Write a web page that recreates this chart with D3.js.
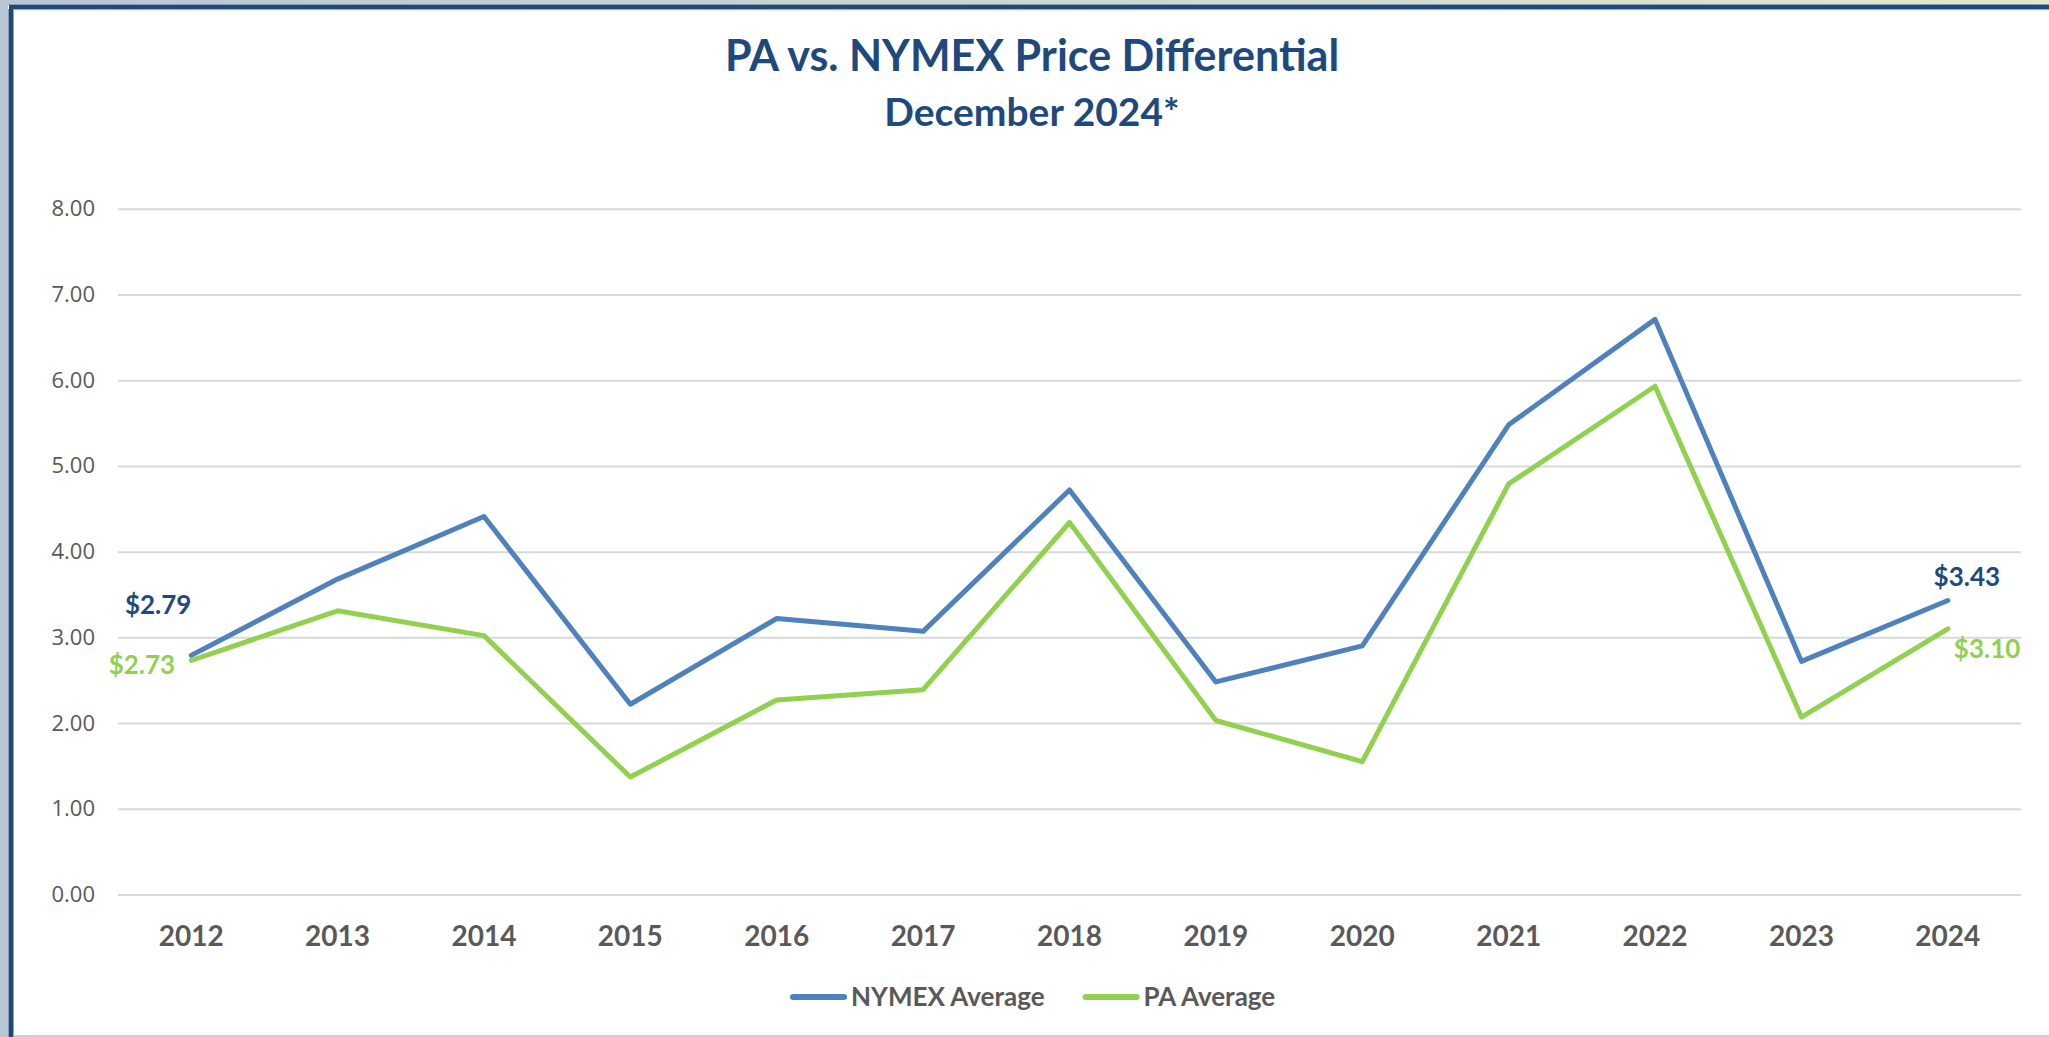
<!DOCTYPE html>
<html>
<head>
<meta charset="utf-8">
<script src="https://cdn.jsdelivr.net/npm/d3@7"></script>
<style>
  html, body { margin: 0; padding: 0; background: #ffffff; }
  svg { display: block; }
</style>
</head>
<body>
<svg id="chart" width="2049" height="1037"></svg>
<script>
const years = ["2012","2013","2014","2015","2016","2017","2018","2019","2020","2021","2022","2023","2024"];
const nymexAverage = [2.79, 3.68, 4.41, 2.22, 3.22, 3.07, 4.72, 2.48, 2.90, 5.48, 6.71, 2.72, 3.43];
const paAverage    = [2.73, 3.31, 3.02, 1.37, 2.27, 2.39, 4.34, 2.03, 1.55, 4.79, 5.93, 2.07, 3.10];
const yTicks = [0, 1, 2, 3, 4, 5, 6, 7, 8];
const seriesNames = ["NYMEX Average", "PA Average"];
const titleText = "PA vs. NYMEX Price Differential";
const subtitleText = "December 2024*";

const W = 2049, H = 1037;
const svg = d3.select("#chart");

// frame
const defs = svg.append("defs");
const grad = defs.append("linearGradient").attr("id", "topgrad").attr("x1", "0%").attr("x2", "100%");
grad.append("stop").attr("offset", "0%").attr("stop-color", "#b8c6d4");
grad.append("stop").attr("offset", "100%").attr("stop-color", "#e1e8c9");
svg.append("rect").attr("x", 0).attr("y", 0).attr("width", W).attr("height", H).attr("fill", "#ffffff");
svg.append("rect").attr("x", 0).attr("y", 0).attr("width", W).attr("height", 5).attr("fill", "url(#topgrad)");
svg.append("rect").attr("x", 0).attr("y", 0).attr("width", 8).attr("height", H).attr("fill", "#b8c6d4");
svg.append("rect").attr("x", 8).attr("y", 9).attr("width", 1).attr("height", H).attr("fill", "#8a9cb6");
svg.append("rect").attr("x", 8).attr("y", 4).attr("width", W).attr("height", 1).attr("fill", "#8a9cb6");
svg.append("rect").attr("x", 9).attr("y", 5).attr("width", W).attr("height", 4).attr("fill", "#1f497d");
svg.append("rect").attr("x", 9).attr("y", 5).attr("width", 4.5).attr("height", H).attr("fill", "#1f497d");
svg.append("rect").attr("x", 13.5).attr("y", 9).attr("width", W).attr("height", 1.2).attr("fill", "#9fb2cc");
svg.append("rect").attr("x", 13.5).attr("y", H - 2).attr("width", W).attr("height", 2).attr("fill", "#c5d1de");

// titles
svg.append("text").attr("x", 1032).attr("y", 71).attr("text-anchor", "middle")
  .attr("font-family", "Lato").attr("font-weight", 700).attr("font-size", 43)
  .attr("fill", "#1f497d").text(titleText);
svg.append("text").attr("x", 1032).attr("y", 126).attr("text-anchor", "middle")
  .attr("font-family", "Lato").attr("font-weight", 700).attr("font-size", 39)
  .attr("fill", "#1f497d").text(subtitleText);

// scales
const x = d3.scaleBand().domain(years).range([118, 2021]).paddingInner(0).paddingOuter(0);
const y = d3.scaleLinear().domain([0, 8]).range([894.5, 208.8]);
const cx = d => x(d) + x.bandwidth() / 2;

// y axis with gridlines
const yAxis = svg.append("g").attr("transform", "translate(118,0)")
  .call(d3.axisLeft(y).tickValues(yTicks).tickFormat(d3.format(".2f")).tickSize(-(2021 - 118)).tickPadding(23));
yAxis.select(".domain").remove();
yAxis.selectAll(".tick line").attr("stroke", "#d9d9d9").attr("stroke-width", 2);
yAxis.selectAll(".tick text").attr("fill", "#595959").attr("font-family", "Open Sans")
  .attr("font-size", 22);

// x axis
const xAxis = svg.append("g").attr("transform", "translate(0,894.5)")
  .call(d3.axisBottom(x).tickSize(0).tickPadding(32));
xAxis.select(".domain").remove();
xAxis.selectAll(".tick text").attr("fill", "#595959").attr("font-family", "Lato")
  .attr("font-weight", 700).attr("font-size", 28);

// lines
const series = [
  { name: seriesNames[0], values: nymexAverage, color: "#4f81bd" },
  { name: seriesNames[1], values: paAverage, color: "#92d050" }
];
const line = d3.line().x((d, i) => cx(years[i])).y(d => y(d));
series.forEach(s => {
  svg.append("path").datum(s.values).attr("d", line)
    .attr("fill", "none").attr("stroke", s.color).attr("stroke-width", 5)
    .attr("stroke-linejoin", "round").attr("stroke-linecap", "round");
});

// data labels (first and last)
const fmt = d3.format("$.2f");
const last = years.length - 1;
const lbl = (xv, yv, anchor, color, txt) =>
  svg.append("text").attr("x", xv).attr("y", yv).attr("text-anchor", anchor)
    .attr("font-family", "Lato").attr("font-weight", 700).attr("font-size", 26)
    .attr("fill", color).text(txt);
lbl(cx(years[0]) - 33, y(nymexAverage[0]) - 41, "middle", "#1f497d", fmt(nymexAverage[0]));
lbl(cx(years[0]) - 16, y(paAverage[0]) + 13, "end", "#92d050", fmt(paAverage[0]));
lbl(cx(years[last]) + 19, y(nymexAverage[last]) - 15, "middle", "#1f497d", fmt(nymexAverage[last]));
lbl(cx(years[last]) + 6, y(paAverage[last]) + 29, "start", "#92d050", fmt(paAverage[last]));

// legend
const legend = svg.append("g");
let lx = 791;
series.forEach((s, i) => {
  legend.append("line").attr("x1", lx + 2).attr("x2", lx + 53).attr("y1", 997).attr("y2", 997)
    .attr("stroke", s.color).attr("stroke-width", 6).attr("stroke-linecap", "round");
  const t = legend.append("text").attr("x", lx + 60).attr("y", 1006)
    .attr("font-family", "Lato").attr("font-weight", 700).attr("font-size", 26)
    .attr("fill", "#595959").text(s.name);
  lx = lx + 60 + t.node().getComputedTextLength() + 39;
});
</script>
</body>
</html>
